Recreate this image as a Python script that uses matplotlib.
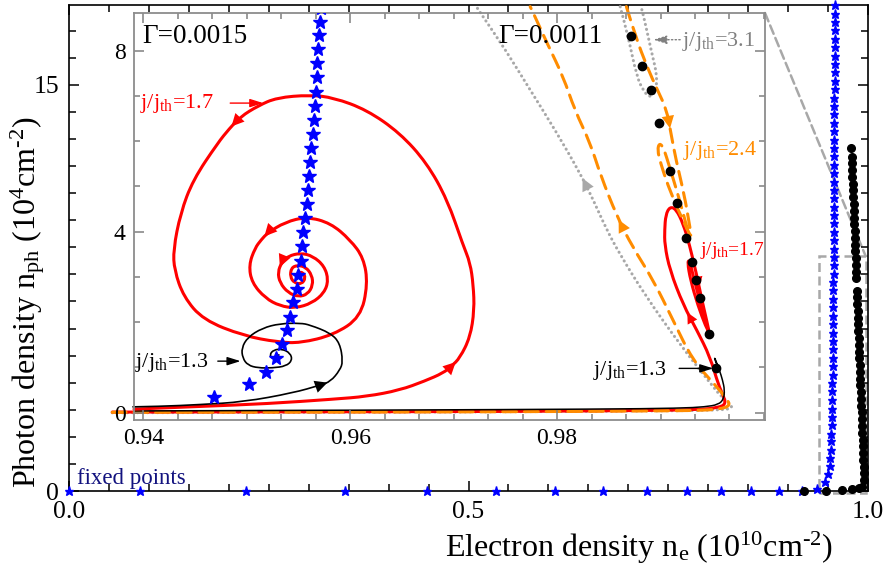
import matplotlib
matplotlib.use("Agg")
import matplotlib.pyplot as plt
from matplotlib.patches import Rectangle, ConnectionPatch, PathPatch
from matplotlib.path import Path
from matplotlib.ticker import MultipleLocator, FixedLocator, FormatStrFormatter

plt.rcParams['font.family'] = ['Liberation Serif', 'DejaVu Serif']
plt.rcParams['mathtext.default'] = 'regular'

# ---- fixed points, Gamma = 0.0015 (blue stars)
fp15_ne = [0.000, 0.089, 0.222, 0.345, 0.448, 0.535, 0.608, 0.668, 0.724, 0.774,
           0.816, 0.854, 0.889, 0.918, 0.936,
           0.9468, 0.9502, 0.9519, 0.9528, 0.9534, 0.9539, 0.9542, 0.9545, 0.9549, 0.9550,
           0.9552, 0.9553, 0.9554, 0.9556, 0.9558, 0.9559, 0.9560, 0.9561, 0.9562, 0.9564,
           0.9565, 0.9566, 0.9567, 0.9568, 0.9568, 0.9569, 0.9570, 0.9571,
           0.9572, 0.9572, 0.9573, 0.9573, 0.9574, 0.9574, 0.9575, 0.9575, 0.9576, 0.9576,
           0.9577, 0.9577, 0.9578, 0.9578, 0.9579, 0.9579, 0.9580, 0.9580, 0.9580, 0.9581,
           0.9581, 0.9582, 0.9582, 0.9582, 0.9583, 0.9583, 0.9583, 0.9584, 0.9584, 0.9584]
fp15_nph = [0, 0, 0, 0, 0, 0, 0, 0, 0, 0, 0, 0, 0, 0, 0.07,
            0.35, 0.63, 0.91, 1.22, 1.52, 1.83, 2.12, 2.44, 2.73, 3.04,
            3.36, 3.68, 4.00, 4.30, 4.61, 4.92, 5.24, 5.53, 5.84, 6.16,
            6.47, 6.78, 7.09, 7.41, 7.72, 8.03, 8.35, 8.64,
            8.95, 9.26, 9.57, 9.88, 10.19, 10.50, 10.81, 11.12, 11.43, 11.74,
            12.05, 12.36, 12.67, 12.98, 13.29, 13.60, 13.91, 14.22, 14.53, 14.84,
            15.15, 15.46, 15.77, 16.08, 16.39, 16.70, 17.01, 17.32, 17.63, 17.94]

# ---- fixed points, Gamma = 0.0011 (black dots), main panel
fp11_ne = [0.920, 0.9475, 0.9675, 0.980, 0.9888, 0.9925,
           0.9950, 0.9948, 0.9945, 0.9942, 0.9938, 0.9935, 0.9932, 0.9929, 0.9926, 0.9922,
           0.9919, 0.9916, 0.9912, 0.9909, 0.9906, 0.9903, 0.9899, 0.9896, 0.9893, 0.9890,
           0.9886, 0.9883, 0.9880, 0.9877, 0.9873, 0.9870, 0.9867, 0.9864, 0.9860,
           0.9855, 0.9851, 0.9848, 0.9845, 0.9842, 0.9838, 0.9835, 0.9832, 0.9829, 0.9825,
           0.9822, 0.9819, 0.9816, 0.9812, 0.9809, 0.9806, 0.9803, 0.9799, 0.9796, 0.9792]
fp11_nph = [0, 0, 0.05, 0.07, 0.11, 0.16,
            0.40, 0.65, 0.90, 1.15, 1.40, 1.65, 1.90, 2.15, 2.40, 2.65,
            2.90, 3.15, 3.40, 3.65, 3.90, 4.15, 4.40, 4.65, 4.90, 5.15,
            5.40, 5.65, 5.90, 6.15, 6.40, 6.65, 6.90, 7.15, 7.40,
            7.85, 8.10, 8.35, 8.60, 8.85, 9.10, 9.35, 9.60, 9.85, 10.10,
            10.35, 10.60, 10.85, 11.10, 11.35, 11.60, 11.85, 12.10, 12.35, 12.65]

# inset subset of Gamma = 0.0011 fixed points
fp11_ne_in = [0.9871, 0.9882, 0.9891, 0.9899, 0.9909, 0.9916, 0.9925, 0.9930, 0.9934, 0.9938, 0.9947, 0.9954]
fp11_nph_in = [8.33, 7.66, 7.13, 6.41, 5.34, 4.63, 3.85, 3.32, 2.93, 2.53, 1.74, 0.98]

# ---- trajectories, Gamma = 0.0015
r15_ne = [0.9391, 0.9455, 0.9520, 0.9584, 0.9616, 0.9648, 0.9672, 0.9690, 0.9698, 0.9706,
          0.9716, 0.9720, 0.9719, 0.9716, 0.9709, 0.9694, 0.9674, 0.9648, 0.9616, 0.9584,
          0.9561, 0.9529, 0.9511, 0.9494, 0.9483, 0.9472, 0.9448, 0.9436, 0.9429, 0.9430,
          0.9439, 0.9458, 0.9497, 0.9530, 0.9552, 0.9584, 0.9610, 0.9617, 0.9613, 0.9600,
          0.9581, 0.9558, 0.9537, 0.9520, 0.9514, 0.9508, 0.9502, 0.9505, 0.9518, 0.9532,
          0.9547, 0.9563, 0.9575, 0.9579, 0.9575, 0.9564, 0.9552, 0.9540, 0.9534, 0.9530,
          0.9532, 0.9540, 0.9550, 0.9559, 0.9564, 0.9563, 0.9557, 0.9549, 0.9543, 0.9542,
          0.9546, 0.9553, 0.9557, 0.9554, 0.9550, 0.9549]
r15_nph = [0.08, 0.14, 0.20, 0.30, 0.36, 0.50, 0.70, 0.88, 1.03, 1.21,
           1.67, 2.27, 2.82, 3.31, 3.71, 4.70, 5.52, 6.18, 6.69, 6.96,
           7.02, 6.96, 6.78, 6.54, 6.27, 5.96, 5.14, 4.41, 3.60, 3.15,
           2.56, 2.05, 1.70, 1.56, 1.54, 1.72, 2.11, 2.84, 3.42, 3.82,
           4.19, 4.33, 4.21, 3.97, 3.82, 3.64, 3.26, 2.87, 2.53, 2.36,
           2.31, 2.42, 2.65, 2.93, 3.24, 3.46, 3.53, 3.46, 3.33, 3.11,
           2.87, 2.65, 2.56, 2.62, 2.82, 3.04, 3.22, 3.26, 3.20, 3.00,
           2.87, 2.84, 2.98, 3.11, 3.09, 3.00]

k15_ne = [0.9390, 0.9416, 0.9455, 0.9497, 0.9545, 0.9571, 0.9581, 0.9590, 0.9593, 0.9590,
          0.9581, 0.9561, 0.9552, 0.9532, 0.9515, 0.9501, 0.9495, 0.9496, 0.9501, 0.9511,
          0.9525, 0.9538, 0.9544, 0.9542, 0.9534, 0.9526, 0.9522, 0.9525, 0.9530, 0.9531]
k15_nph = [0.13, 0.14, 0.18, 0.24, 0.44, 0.61, 0.69, 0.94, 1.13, 1.54,
           1.76, 1.94, 1.98, 1.97, 1.87, 1.67, 1.43, 1.21, 1.05, 0.99,
           0.99, 1.03, 1.16, 1.32, 1.41, 1.39, 1.28, 1.19, 1.21, 1.28]

# ---- trajectories, Gamma = 0.0011
g11_ne = [0.9370, 0.9552, 0.9745, 0.9890, 0.9938, 0.9962, 0.9969, 0.9968, 0.9959, 0.9951,
          0.9919, 0.9885, 0.9861, 0.9848, 0.9835, 0.9822, 0.9798, 0.9774, 0.9750, 0.9726, 0.9722]
g11_nph = [0.00, 0.01, 0.02, 0.04, 0.05, 0.07, 0.10, 0.19, 0.35, 0.57,
           1.50, 2.60, 3.49, 4.04, 4.70, 5.30, 6.25, 7.13, 8.02, 8.83, 8.97]
g11b_ne = [0.9861, 0.9868, 0.9877, 0.9884, 0.9890, 0.9895, 0.9897, 0.9892, 0.9883, 0.9881]
g11b_nph = [8.97, 8.39, 7.42, 7.09, 6.96, 7.09, 7.42, 7.90, 8.83, 8.97]

o11_ne = [0.9370, 0.9552, 0.9745, 0.9890, 0.9938, 0.9957, 0.9967, 0.9965, 0.9953, 0.9931,
          0.9912, 0.9893, 0.9873, 0.9858, 0.9842, 0.9832, 0.9817, 0.9806, 0.9791, 0.9777, 0.9774]
o11_nph = [0.01, 0.015, 0.02, 0.04, 0.05, 0.08, 0.15, 0.28, 0.61, 1.16,
           2.05, 2.93, 3.66, 4.33, 5.25, 5.96, 6.69, 7.42, 8.13, 8.83, 8.97]
o11b_ne = [0.9867, 0.9876, 0.9887, 0.9897, 0.9906, 0.9910, 0.9915, 0.9923, 0.9928, 0.9930,
           0.9927, 0.9917, 0.9907, 0.9900, 0.9897, 0.9899, 0.9903, 0.9909, 0.9917, 0.9925, 0.9928]
o11b_nph = [8.97, 8.30, 7.64, 7.13, 6.69, 6.18, 5.58, 4.81, 4.15, 3.88,
            3.99, 4.48, 5.03, 5.52, 5.81, 5.96, 5.85, 5.41, 4.81, 4.15, 3.82]

r11_ne = [0.9370, 0.9552, 0.9745, 0.9890, 0.9938, 0.9956, 0.9963, 0.9961, 0.9956, 0.9948,
          0.9935, 0.9922, 0.9909, 0.9904, 0.9904, 0.9905, 0.9909, 0.9915, 0.9922, 0.9928,
          0.9935, 0.9940, 0.9945, 0.9947, 0.9944, 0.9936, 0.9929, 0.9926, 0.9928, 0.9933,
          0.9940, 0.9946]
r11_nph = [0.015, 0.02, 0.027, 0.05, 0.07, 0.115, 0.19, 0.37, 0.61, 1.23,
           1.83, 2.38, 3.15, 3.71, 4.04, 4.37, 4.55, 4.50, 4.17, 3.71,
           3.04, 2.49, 2.00, 1.78, 1.89, 2.38, 2.93, 3.33, 3.37, 2.89,
           2.31, 1.83]

k11_ne = [0.9391, 0.9648, 0.9842, 0.9919, 0.9943, 0.9956, 0.9961, 0.9962, 0.9960, 0.9957,
          0.9953, 0.9952, 0.9954, 0.9956, 0.9955]
k11_nph = [0.04, 0.06, 0.08, 0.10, 0.13, 0.18, 0.30, 0.50, 0.72, 0.94,
           1.14, 1.23, 1.12, 0.99, 0.94]

RED = '#ff0000'
ORANGE = '#ff8c00'
GRAY = '#a8a8a8'
BLUE = '#0000ff'

fig = plt.figure(figsize=(8.86, 5.67), dpi=100)

# ---------------- main panel
ax = fig.add_axes([69/886, 1-491/567, 799/886, 486/567])
ax.set_xlim(0, 1.0)
ax.set_ylim(0, 17.95)

ax.plot(fp15_ne, fp15_nph, ls='none', marker='*', ms=6.5, color=BLUE, mec=BLUE,
        clip_on=False, zorder=5)
ax.plot(fp11_ne, fp11_nph, ls='none', marker='o', ms=5.5, color='black',
        clip_on=False, zorder=5)

ax.xaxis.set_major_locator(MultipleLocator(0.5))
ax.xaxis.set_minor_locator(MultipleLocator(0.05))
ax.xaxis.set_major_formatter(FormatStrFormatter('%.1f'))
ax.yaxis.set_major_locator(FixedLocator([0, 15]))
ax.yaxis.set_minor_locator(MultipleLocator(1))
ax.tick_params(which='both', direction='in', top=True, right=True,
               labelsize=18.5, pad=7, width=1.1)
ax.tick_params(which='major', length=7.5)
ax.tick_params(which='minor', length=5)
for s in ax.spines.values():
    s.set_linewidth(1.2)

ax.set_xlabel('Electron density n$_e$ (10$^{10}$cm$^{\u2010 2}$)', fontsize=23)
ax.xaxis.label.set_ha('right')
ax.xaxis.label.set_va('center')
ax.xaxis.set_label_coords(0.956, -0.117)
ax.set_ylabel('Photon density n$_{ph}$ (10$^{4}$cm$^{\u2010 2}$)', fontsize=23)
ax.yaxis.label.set_va('center')
ax.yaxis.set_label_coords(-0.052, 0.389)

ax.text(0.010, 0.48, 'fixed points', color='#12127f', fontsize=16.5,
        ha='left', va='center')

# zoom indicator
zx0, zx1, zy0, zy1 = 0.939, 0.997, -0.06, 8.68
dash = dict(color=GRAY, lw=1.8, ls=(0, (3.6, 1.8)))
ax.add_patch(Rectangle((zx0, zy0), zx1-zx0, zy1-zy0, fill=False, clip_on=False,
                       zorder=1, ec=GRAY, lw=1.8, ls=(0, (3.6, 1.8))))

# ---------------- inset
axins = fig.add_axes([134/886, 1-420/567, 631/886, 407/567])
axins.set_xlim(0.9391, 1.0001)
axins.set_ylim(-0.16, 8.83)

for a, b in [((0, 0), (zx0, zy0)), ((1, 1), (zx1, zy1))]:
    con = ConnectionPatch(xyA=a, coordsA='axes fraction', axesA=axins,
                          xyB=b, coordsB='data', axesB=ax, clip_on=False,
                          zorder=1, **dash)
    ax.add_artist(con)


def curve(xs, ys, **kw):
    # quadratic B-spline path through the traced points (drawn by matplotlib)
    pts = list(zip(xs, ys))
    verts, codes = [pts[0]], [Path.MOVETO]
    for i in range(1, len(pts) - 1):
        mid = ((pts[i][0] + pts[i+1][0]) / 2, (pts[i][1] + pts[i+1][1]) / 2)
        verts += [pts[i], mid]
        codes += [Path.CURVE3, Path.CURVE3]
    verts.append(pts[-1])
    codes.append(Path.LINETO)
    p = PathPatch(Path(verts, codes), fill=False, clip_on=False,
                  joinstyle='round', capstyle='round', **kw)
    axins.add_patch(p)


dot = (0, (0.05, 1.6))
curve(g11_ne, g11_nph, ec=GRAY, lw=2.2, ls=dot)
curve(g11b_ne, g11b_nph, ec=GRAY, lw=2.2, ls=dot)
curve(r11_ne, r11_nph, ec=RED, lw=2.2)
curve(o11_ne, o11_nph, ec=ORANGE, lw=2.2, ls=(0, (4.5, 2.6)))
curve(o11b_ne, o11b_nph, ec=ORANGE, lw=2.2, ls=(0, (4.5, 2.6)))
curve(k11_ne, k11_nph, ec='black', lw=1.1)
curve(r15_ne, r15_nph, ec=RED, lw=2.2)
curve(k15_ne, k15_nph, ec='black', lw=1.2)

axins.plot(fp15_ne, fp15_nph, ls='none', marker='*', ms=10, color=BLUE, mec=BLUE, zorder=5)
axins.plot(fp11_ne_in, fp11_nph_in, ls='none', marker='o', ms=6, color='black', zorder=5)


def head(xs, ys, i, color, t=0.5, ms=15):
    x0, y0, x1, y1 = xs[i], ys[i], xs[i+1], ys[i+1]
    tip = (x0 + t * (x1 - x0), y0 + t * (y1 - y0))
    axins.annotate('', xy=tip, xytext=(x0, y0),
                   arrowprops=dict(arrowstyle='-|>,head_length=0.6,head_width=0.3',
                                   color=color, lw=0, shrinkA=0, shrinkB=0,
                                   mutation_scale=ms), zorder=4)


head(r15_ne, r15_nph, 8, RED)
head(r15_ne, r15_nph, 23, RED, 0.8)
head(r15_ne, r15_nph, 43, RED)
head(r15_ne, r15_nph, 58, RED)
head(k15_ne, k15_nph, 5, 'black', 0.7)
head(g11_ne, g11_nph, 14, GRAY, 0.8)
head(o11_ne, o11_nph, 12, ORANGE, 0.9)
head(o11b_ne, o11b_nph, 4, ORANGE, 0.8)
head(r11_ne, r11_nph, 10, RED, 0.7, 13)
head(r11_ne, r11_nph, 20, RED, 0.5, 13)

axins.xaxis.set_major_locator(FixedLocator([0.94, 0.96, 0.98]))
axins.xaxis.set_minor_locator(MultipleLocator(0.02/6))
axins.xaxis.set_major_formatter(FormatStrFormatter('%.2f'))
axins.yaxis.set_major_locator(FixedLocator([0, 4, 8]))
axins.yaxis.set_minor_locator(MultipleLocator(1))
axins.tick_params(which='both', direction='in', top=True, right=True, color='#808080',
                  labelsize=17, pad=6, width=1.1)
axins.tick_params(which='major', length=7)
axins.tick_params(which='minor', length=4.5)
for s in axins.spines.values():
    s.set_color('#8c8c8c')
    s.set_linewidth(1.3)

# labels
axins.text(0.9399, 8.30, '\u0393=0.0015', fontsize=19.5, ha='left', va='center')
axins.text(0.9743, 8.30, '\u0393=0.0011', fontsize=19.5, ha='left', va='center')

lab = dict(ha='left', va='center', fontsize=16)
axins.text(0.9397, 6.84, r'j/j$_{th}$=1.7', color=RED, **lab)
axins.text(0.9392, 1.12, r'j/j$_{th}$=1.3', color='black', **lab)
axins.text(0.9921, 8.19, r'j/j$_{th}$=3.1', color='#808080', **lab)
axins.text(0.9922, 5.80, r'j/j$_{th}$=2.4', color=ORANGE, **lab)
axins.text(0.9938, 3.58, r'j/j$_{th}$=1.7', color=RED, ha='left', va='center', fontsize=14)
axins.text(0.98348, 0.94, r'j/j$_{th}$=1.3', color='black', **lab)


def pointer(x0, x1, y, color, ls='-'):
    axins.annotate('', xy=(x1, y), xytext=(x0, y),
                   arrowprops=dict(arrowstyle='-|>,head_length=0.8,head_width=0.25',
                                   color=color, lw=1.0, ls=ls, shrinkA=0, shrinkB=0,
                                   mutation_scale=10))


pointer(0.9484, 0.9516, 6.84, RED)
pointer(0.9472, 0.9494, 1.14, 'black')
pointer(0.9919, 0.9893, 8.24, '#808080', ':')
pointer(0.9918, 0.9951, 0.98, 'black')

fig.savefig('out.png', dpi=100)
